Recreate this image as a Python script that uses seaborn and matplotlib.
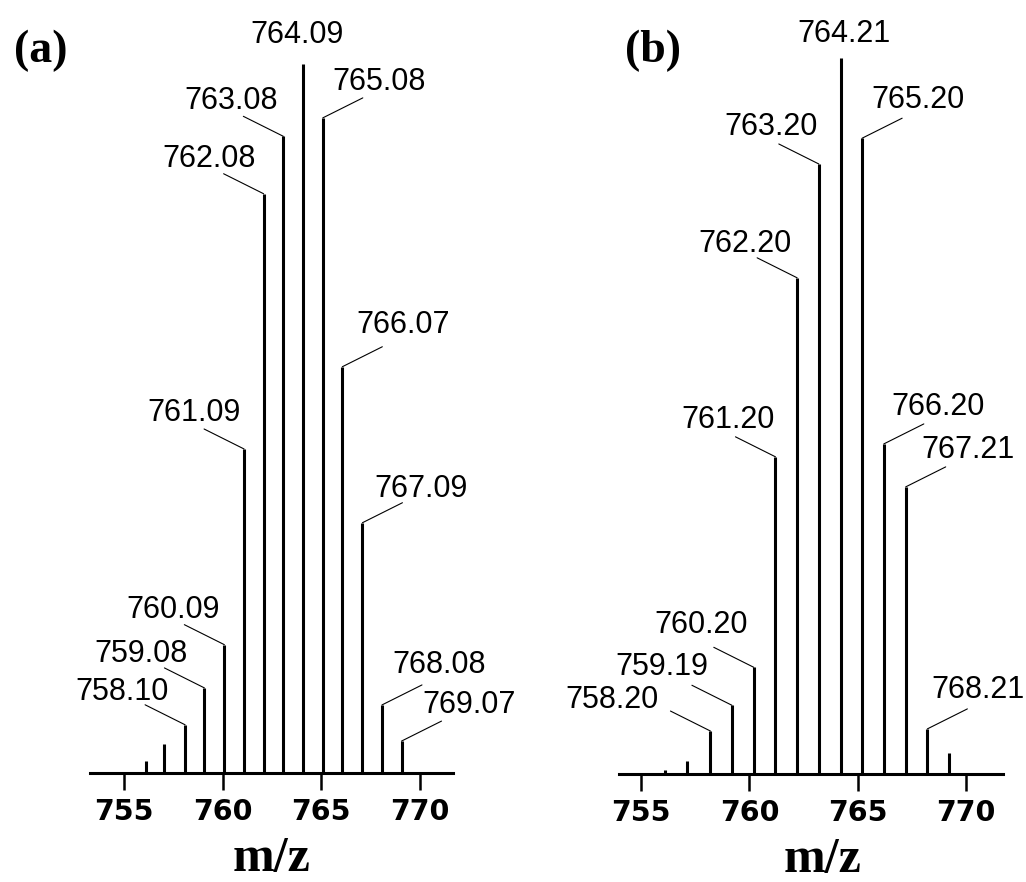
import numpy as np
import pandas as pd
import matplotlib
matplotlib.use('Agg')
import matplotlib.pyplot as plt
import seaborn as sb

# Isotope peaks (relative intensity, base peak = 100)
mz_a = [756.10, 757.05, 758.10, 759.08, 760.09, 761.09, 762.08, 763.08, 764.09, 765.08, 766.07, 767.09, 768.08, 769.07]
int_a = [1.7, 4.1, 6.8, 12.0, 18.1, 45.7, 81.7, 89.8, 100.0, 92.4, 57.3, 35.3, 9.6, 4.5]
lab_a = ['', '', '758.10', '759.08', '760.09', '761.09', '762.08', '763.08', '764.09',
         '765.08', '766.07', '767.09', '768.08', '769.07']

mz_b = [756.10, 757.10, 758.20, 759.19, 760.20, 761.20, 762.20, 763.20, 764.21, 765.20, 766.20, 767.21, 768.21, 769.20]
int_b = [0.6, 1.8, 6.0, 9.6, 14.9, 44.3, 69.3, 85.2, 100.0, 88.8, 46.1, 40.1, 6.3, 2.9]
lab_b = ['', '', '758.20', '759.19', '760.20', '761.20', '762.20', '763.20', '764.21',
         '765.20', '766.20', '767.21', '768.21', '']

xticks = [755, 760, 765, 770]
xlabel = 'm/z'
panels = ['(a)', '(b)']

# where each peak label sits relative to its peak top (pixels: text centre, baseline)
text_off = {
    '758.10': (-63, 25), '759.08': (-63, 26), '760.09': (-51, 27), '761.09': (-50, 28),
    '762.08': (-55, 27), '763.08': (-52, 27), '764.09': (-6, 21), '765.08': (56, 28),
    '766.07': (61, 34), '767.09': (59, 26), '768.08': (57, 32), '769.07': (68, 28),
    '758.20': (-98, 23), '759.19': (-70, 30), '760.20': (-53, 34), '761.20': (-47, 29),
    '762.20': (-52, 26), '763.20': (-48, 29), '764.21': (3, 16), '765.20': (56, 30),
    '766.20': (54, 29), '767.21': (62, 29), '768.21': (51, 31),
}

sb.set_style('ticks')
plt.rcParams['font.family'] = ['Liberation Sans', 'DejaVu Sans']
plt.rcParams['text.color'] = 'black'
plt.rcParams['xtick.color'] = 'black'
plt.rcParams['axes.labelcolor'] = 'black'

fig = plt.figure(figsize=(10.26, 8.82), dpi=100)
W, H = 1026, 882


def draw(ax, mz, inten, labels, xlim, ytop, xlab_pos):
    df = pd.DataFrame({'mz': mz, 'I': inten, 'label': labels})
    ax.vlines(df['mz'], 0, df['I'], color='black', lw=2.2)
    top = df['mz'][df['I'].idxmax()]
    for m, h, lab in zip(df['mz'], df['I'], df['label']):
        if not lab:
            continue
        if m != top:
            side = -1 if m < top else 1
            ax.annotate('', xy=(m, h), xytext=(40 * side, 20), textcoords='offset pixels',
                        arrowprops=dict(arrowstyle='-', lw=0.8, color='black', shrinkA=0, shrinkB=0))
        ax.annotate(lab, xy=(m, h), xytext=text_off[lab], textcoords='offset pixels',
                    ha='center', va='baseline', fontsize=22)
    ax.set_xlim(*xlim)
    ax.set_ylim(0, ytop)
    ax.set_yticks([])
    ax.set_xticks(xticks)
    ax.set_xticklabels([str(t) for t in xticks], fontweight='bold', family='DejaVu Sans', fontsize=20.5)
    ax.tick_params(axis='x', bottom=True, direction='out', length=12, width=1.8, pad=6, color='black')
    ax.set_xlabel(xlabel, family='Liberation Serif', fontweight='bold', fontsize=36)
    ax.xaxis.set_label_coords(xlab_pos, -0.086)
    sb.despine(ax=ax, left=True)
    ax.spines['bottom'].set_linewidth(2.2)
    ax.spines['bottom'].set_color('black')
    ax.patch.set_alpha(0)


# axes boxes measured in pixels
ax_a = fig.add_axes([90 / W, (H - 773) / H, (453 - 90) / W, (773 - 40) / H])
draw(ax_a, mz_a, int_a, lab_a, (753.28, 771.68), 733 / 709 * 100, 0.5)

ax_b = fig.add_axes([619 / W, (H - 774) / H, (1003 - 619) / W, (774 - 40) / H])
draw(ax_b, mz_b, int_b, lab_b, (753.98, 771.70), 734 / 716 * 100, 0.53)

fig.text(14 / W, 1 - 30 / H, panels[0], family='Liberation Serif', fontweight='bold',
         fontsize=33, ha='left', va='top')
fig.text(625 / W, 1 - 30 / H, panels[1], family='Liberation Serif', fontweight='bold',
         fontsize=33, ha='left', va='top')

fig.savefig('out.png', dpi=100)
